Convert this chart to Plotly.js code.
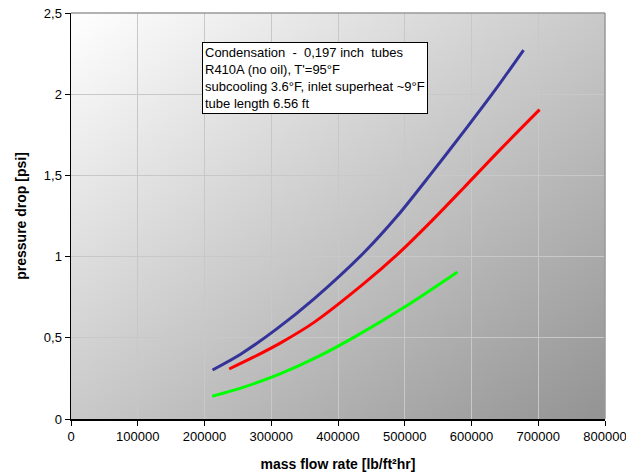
<!DOCTYPE html>
<html>
<head>
<meta charset="utf-8">
<script src="https://cdn.plot.ly/plotly-3.0.1.min.js"></script>
<style>html,body{margin:0;padding:0;background:#fff;}#chart{width:626px;height:474px;}</style>
</head>
<body>
<div id="chart"></div>
<script>
// Data
const blueX  = [212000, 254100, 309200, 364100, 439000, 489100, 539000, 594400, 634400, 678000];
const blueY  = [0.302, 0.399, 0.558, 0.740, 1.025, 1.251, 1.508, 1.802, 2.020, 2.272];
const redX   = [237000, 274000, 314100, 364100, 439000, 489100, 539000, 588900, 644400, 702000];
const redY   = [0.308, 0.382, 0.469, 0.595, 0.835, 1.014, 1.214, 1.426, 1.665, 1.905];
const greenX = [211600, 260200, 314100, 369200, 429000, 504000, 579000];
const greenY = [0.140, 0.198, 0.279, 0.382, 0.515, 0.700, 0.905];
const yTickVals   = [0, 0.5, 1, 1.5, 2, 2.5];
const yTickLabels = ['0', '0,5', '1', '1,5', '2', '2,5'];
const xTickVals   = [0, 100000, 200000, 300000, 400000, 500000, 600000, 700000, 800000];
const xTickLabels = ['0', '100000', '200000', '300000', '400000', '500000', '600000', '700000', '800000'];
const noteLines = [
  'Condensation\u00a0\u00a0-\u00a0\u00a00,197 inch\u00a0\u00a0tubes',
  "R410A (no oil), T'=95°F",
  'subcooling 3.6°F, inlet superheat ~9°F',
  'tube length 6.56 ft'
];

const gradSvg = '<svg xmlns="http://www.w3.org/2000/svg" width="100" height="100" preserveAspectRatio="none">' +
  '<defs><linearGradient id="g" x1="0" y1="0" x2="1" y2="1">' +
  '<stop offset="0" stop-color="#ffffff"/><stop offset="1" stop-color="#939393"/>' +
  '</linearGradient></defs><rect width="100" height="100" fill="url(#g)"/></svg>';
const gradUrl = 'data:image/svg+xml;base64,' + btoa(gradSvg);

const lineStyle = c => ({color: c, width: 3, shape: 'spline', smoothing: 0.8});

const traces = [
  {x: blueX, y: blueY, mode: 'lines', line: lineStyle('#333399'), hoverinfo: 'none'},
  {x: redX, y: redY, mode: 'lines', line: lineStyle('#ff0000'), hoverinfo: 'none'},
  {x: greenX, y: greenY, mode: 'lines', line: lineStyle('#00ff00'), hoverinfo: 'none'}
];

const font = 'Liberation Sans, Arial, sans-serif';

const layout = {
  width: 626, height: 474,
  margin: {l: 71, r: 21, t: 13, b: 55},
  paper_bgcolor: '#ffffff',
  plot_bgcolor: 'rgba(0,0,0,0)',
  showlegend: false,
  font: {family: font, size: 13, color: '#000'},
  xaxis: {
    range: [0, 800000], tickvals: xTickVals, ticktext: xTickLabels,
    showgrid: true, gridcolor: '#c8c8c8', gridwidth: 1,
    zeroline: false, showline: true, linecolor: '#000', linewidth: 1.5,
    ticks: 'outside', ticklen: 5, tickcolor: '#000',
    ticklabeloverflow: 'allow',
    tickfont: {family: font, size: 13},
    title: {text: 'mass flow rate [lb/ft²hr]', font: {family: font, size: 14, weight: 'bold'}, standoff: 16}
  },
  yaxis: {
    range: [0, 2.5], tickvals: yTickVals, ticktext: yTickLabels,
    showgrid: true, gridcolor: '#c8c8c8', gridwidth: 1,
    zeroline: false, showline: true, linecolor: '#000', linewidth: 1.5,
    ticks: 'outside', ticklen: 5, tickcolor: '#000',
    ticklabeloverflow: 'allow',
    tickfont: {family: font, size: 13},
    title: {text: 'pressure drop [psi]', font: {family: font, size: 14, weight: 'bold'}, standoff: 14}
  },
  images: [{
    source: gradUrl, xref: 'paper', yref: 'paper', x: 0, y: 1,
    sizex: 1, sizey: 1, xanchor: 'left', yanchor: 'top',
    sizing: 'stretch', layer: 'below'
  }],
  shapes: [
    {type: 'line', xref: 'paper', yref: 'paper', x0: 0, x1: 1, y0: 1, y1: 1, line: {color: '#999999', width: 1.5}},
    {type: 'line', xref: 'paper', yref: 'paper', x0: 1, x1: 1, y0: 0, y1: 1, line: {color: '#999999', width: 1.5}}
  ],
  annotations: [{
    xref: 'paper', yref: 'paper', x: 0.245, y: 0.929,
    xanchor: 'left', yanchor: 'top', align: 'left', showarrow: false,
    text: noteLines.join('<br>'),
    font: {family: font, size: 13, color: '#000'},
    bgcolor: '#ffffff', bordercolor: '#000000', borderwidth: 1, borderpad: 2
  }]
};

Plotly.newPlot('chart', traces, layout, {staticPlot: true, displayModeBar: false});
</script>
</body>
</html>
